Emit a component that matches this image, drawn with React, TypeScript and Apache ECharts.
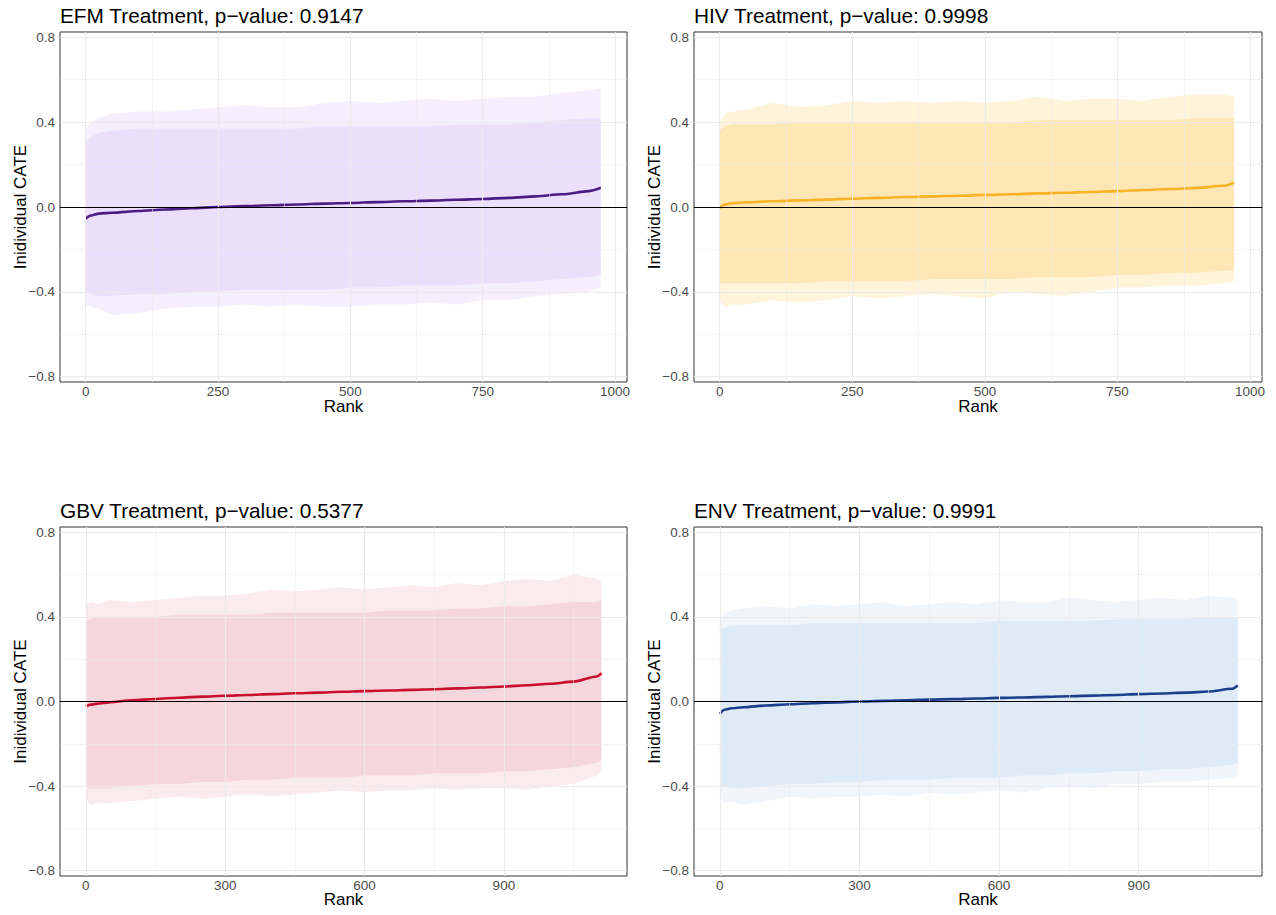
import React, { useEffect, useRef } from "react";
import * as echarts from "echarts";

// ---------- DATA ----------
const efmRanks = [0, 10, 25, 50, 100, 150, 200, 250, 300, 350, 400, 450, 500, 550, 600, 650, 700, 750, 800, 850, 900, 950, 973];
const efmCate = [-0.055, -0.04, -0.031, -0.027, -0.019, -0.012, -0.006, 0.0, 0.004, 0.008, 0.012, 0.016, 0.019, 0.023, 0.027, 0.03, 0.034, 0.038, 0.043, 0.05, 0.06, 0.075, 0.091];
const efmUpperMax = [0.37, 0.4, 0.42, 0.44, 0.45, 0.45, 0.46, 0.47, 0.48, 0.47, 0.47, 0.49, 0.5, 0.49, 0.5, 0.51, 0.5, 0.51, 0.52, 0.52, 0.54, 0.55, 0.56];
const efmUpperDense = [0.3, 0.33, 0.35, 0.36, 0.37, 0.37, 0.37, 0.37, 0.37, 0.37, 0.37, 0.38, 0.38, 0.38, 0.38, 0.38, 0.39, 0.39, 0.39, 0.4, 0.41, 0.42, 0.42];
const efmLowerDense = [-0.4, -0.41, -0.42, -0.42, -0.41, -0.41, -0.4, -0.4, -0.39, -0.39, -0.39, -0.39, -0.38, -0.38, -0.37, -0.37, -0.37, -0.36, -0.36, -0.35, -0.34, -0.33, -0.32];
const efmLowerMin = [-0.46, -0.47, -0.48, -0.51, -0.5, -0.48, -0.47, -0.47, -0.46, -0.47, -0.46, -0.47, -0.47, -0.46, -0.46, -0.45, -0.46, -0.44, -0.44, -0.42, -0.41, -0.4, -0.38];

const hivRanks = [0, 10, 25, 50, 100, 150, 200, 250, 300, 350, 400, 450, 500, 550, 600, 650, 700, 750, 800, 850, 900, 950, 970];
const hivCate = [-0.005, 0.012, 0.018, 0.022, 0.027, 0.031, 0.035, 0.039, 0.043, 0.047, 0.05, 0.053, 0.057, 0.06, 0.064, 0.067, 0.071, 0.075, 0.08, 0.085, 0.09, 0.1, 0.115];
const hivUpperMax = [0.4, 0.44, 0.45, 0.46, 0.49, 0.47, 0.48, 0.5, 0.49, 0.5, 0.49, 0.5, 0.49, 0.5, 0.52, 0.5, 0.51, 0.51, 0.5, 0.52, 0.53, 0.53, 0.52];
const hivUpperDense = [0.36, 0.38, 0.39, 0.39, 0.39, 0.4, 0.4, 0.4, 0.4, 0.4, 0.4, 0.4, 0.4, 0.4, 0.41, 0.41, 0.41, 0.41, 0.41, 0.41, 0.42, 0.42, 0.42];
const hivLowerDense = [-0.36, -0.36, -0.36, -0.36, -0.36, -0.36, -0.35, -0.35, -0.35, -0.35, -0.34, -0.34, -0.34, -0.34, -0.33, -0.33, -0.33, -0.32, -0.32, -0.31, -0.31, -0.3, -0.3];
const hivLowerMin = [-0.44, -0.47, -0.46, -0.46, -0.44, -0.45, -0.44, -0.42, -0.43, -0.42, -0.41, -0.42, -0.43, -0.4, -0.41, -0.42, -0.4, -0.38, -0.38, -0.37, -0.37, -0.36, -0.35];

const gbvRanks = [0, 10, 25, 50, 100, 150, 200, 250, 300, 350, 400, 450, 500, 550, 600, 650, 700, 750, 800, 850, 900, 950, 1000, 1050, 1100, 1110];
const gbvCate = [-0.024, -0.015, -0.01, -0.004, 0.006, 0.012, 0.018, 0.023, 0.027, 0.031, 0.035, 0.039, 0.042, 0.046, 0.049, 0.052, 0.055, 0.058, 0.062, 0.066, 0.071, 0.077, 0.084, 0.094, 0.118, 0.134];
const gbvUpperMax = [0.46, 0.47, 0.46, 0.48, 0.47, 0.48, 0.49, 0.5, 0.5, 0.51, 0.53, 0.52, 0.53, 0.54, 0.53, 0.54, 0.55, 0.54, 0.56, 0.55, 0.57, 0.58, 0.57, 0.6, 0.58, 0.57];
const gbvUpperDense = [0.38, 0.39, 0.4, 0.4, 0.4, 0.4, 0.41, 0.41, 0.41, 0.41, 0.42, 0.42, 0.42, 0.42, 0.42, 0.43, 0.43, 0.43, 0.44, 0.44, 0.45, 0.45, 0.46, 0.47, 0.47, 0.48];
const gbvLowerDense = [-0.4, -0.41, -0.41, -0.41, -0.4, -0.39, -0.39, -0.38, -0.38, -0.37, -0.37, -0.36, -0.36, -0.36, -0.35, -0.35, -0.35, -0.34, -0.34, -0.34, -0.33, -0.33, -0.32, -0.31, -0.29, -0.28];
const gbvLowerMin = [-0.46, -0.49, -0.48, -0.48, -0.47, -0.46, -0.45, -0.46, -0.45, -0.44, -0.45, -0.44, -0.43, -0.42, -0.43, -0.42, -0.42, -0.41, -0.42, -0.41, -0.41, -0.42, -0.4, -0.39, -0.35, -0.33];

const envRanks = [0, 10, 25, 50, 100, 150, 200, 250, 300, 350, 400, 450, 500, 550, 600, 650, 700, 750, 800, 850, 900, 950, 1000, 1050, 1100, 1113];
const envCate = [-0.058, -0.039, -0.032, -0.027, -0.019, -0.013, -0.008, -0.004, 0.0, 0.003, 0.006, 0.009, 0.011, 0.014, 0.017, 0.019, 0.022, 0.025, 0.028, 0.031, 0.035, 0.038, 0.042, 0.047, 0.06, 0.076];
const envUpperMax = [0.38, 0.42, 0.43, 0.44, 0.45, 0.44, 0.46, 0.45, 0.46, 0.47, 0.45, 0.46, 0.47, 0.46, 0.48, 0.47, 0.47, 0.49, 0.48, 0.47, 0.48, 0.49, 0.48, 0.5, 0.49, 0.48];
const envUpperDense = [0.34, 0.35, 0.36, 0.36, 0.36, 0.36, 0.37, 0.37, 0.37, 0.37, 0.37, 0.37, 0.37, 0.37, 0.38, 0.38, 0.38, 0.38, 0.38, 0.39, 0.39, 0.39, 0.39, 0.4, 0.4, 0.4];
const envLowerDense = [-0.4, -0.4, -0.41, -0.41, -0.4, -0.39, -0.39, -0.38, -0.38, -0.37, -0.37, -0.37, -0.36, -0.36, -0.36, -0.35, -0.35, -0.34, -0.34, -0.33, -0.33, -0.32, -0.32, -0.31, -0.3, -0.29];
const envLowerMin = [-0.45, -0.48, -0.47, -0.49, -0.47, -0.45, -0.46, -0.45, -0.45, -0.44, -0.45, -0.43, -0.44, -0.43, -0.42, -0.43, -0.41, -0.4, -0.41, -0.39, -0.39, -0.38, -0.38, -0.37, -0.36, -0.35];

const titles = [
  "EFM Treatment, p\u2212value: 0.9147",
  "HIV Treatment, p\u2212value: 0.9998",
  "GBV Treatment, p\u2212value: 0.5377",
  "ENV Treatment, p\u2212value: 0.9991",
];
const yTicks = [-0.8, -0.4, 0, 0.4, 0.8];
const yMinor = [-0.6, -0.2, 0.2, 0.6];
const xTicksTop = [0, 250, 500, 750, 1000];
const xMinorTop = [125, 375, 625, 875];
const xTicksBottom = [0, 300, 600, 900];
const xMinorBottom = [150, 450, 750, 1050];

// ---------- STYLE / LAYOUT ----------
const FONT = '"Liberation Sans", Arial, Helvetica, sans-serif';

type Panel = {
  title: string;
  ranks: number[];
  cate: number[];
  upMax: number[];
  upDense: number[];
  loDense: number[];
  loMin: number[];
  xTicks: number[];
  xMinor: number[];
  xMin: number;
  xMax: number;
  left: number;
  top: number;
  width: number;
  height: number;
  titleTop: number;
  nameGapX: number;
  lineColor: string;
  bandRGB: string;
  bandAlpha: number;
};

const panels: Panel[] = [
  {
    title: titles[0], ranks: efmRanks, cate: efmCate, upMax: efmUpperMax, upDense: efmUpperDense,
    loDense: efmLowerDense, loMin: efmLowerMin, xTicks: xTicksTop, xMinor: xMinorTop,
    xMin: -48.5, xMax: 1022.5, left: 60, top: 32, width: 567, height: 350, titleTop: 5, nameGapX: 16,
    lineColor: "#4b1c84", bandRGB: "160,100,240", bandAlpha: 0.2,
  },
  {
    title: titles[1], ranks: hivRanks, cate: hivCate, upMax: hivUpperMax, upDense: hivUpperDense,
    loDense: hivLowerDense, loMin: hivLowerMin, xTicks: xTicksTop, xMinor: xMinorTop,
    xMin: -48.5, xMax: 1022.5, left: 694, top: 32, width: 568, height: 350, titleTop: 5, nameGapX: 16,
    lineColor: "#fbb326", bandRGB: "255,180,30", bandAlpha: 0.33,
  },
  {
    title: titles[2], ranks: gbvRanks, cate: gbvCate, upMax: gbvUpperMax, upDense: gbvUpperDense,
    loDense: gbvLowerDense, loMin: gbvLowerMin, xTicks: xTicksBottom, xMinor: xMinorBottom,
    xMin: -55.5, xMax: 1165, left: 60, top: 527, width: 567, height: 349, titleTop: 500, nameGapX: 15,
    lineColor: "#c8102e", bandRGB: "200,16,46", bandAlpha: 0.165,
  },
  {
    title: titles[3], ranks: envRanks, cate: envCate, upMax: envUpperMax, upDense: envUpperDense,
    loDense: envLowerDense, loMin: envLowerMin, xTicks: xTicksBottom, xMinor: xMinorBottom,
    xMin: -55.5, xMax: 1165, left: 694, top: 527, width: 568, height: 349, titleTop: 500, nameGapX: 15,
    lineColor: "#1b3f8b", bandRGB: "30,110,200", bandAlpha: 0.14,
  },
];

const fmtY = (v: number) => {
  const s = Math.abs(v) < 1e-9 ? "0.0" : v.toFixed(1);
  return s.replace("-", "\u2212");
};

function buildOption() {
  const grid: any[] = [];
  const xAxis: any[] = [];
  const yAxis: any[] = [];
  const series: any[] = [];
  const title: any[] = [];

  const majorStyle = { color: "#ebebeb", width: 1.1, type: "solid" };
  const minorStyle = { color: "#ebebeb", width: 0.55, type: "solid" };

  panels.forEach((p, i) => {
    grid.push({
      left: p.left, top: p.top, width: p.width, height: p.height,
      show: true, borderColor: "#333333", borderWidth: 1, backgroundColor: "transparent",
      outerBoundsMode: "none", containLabel: false,
    });
    title.push({
      text: p.title, left: p.left, top: p.titleTop, padding: 0,
      textStyle: { fontFamily: FONT, fontSize: 20.8, fontWeight: "normal", color: "#000000" },
    });
    xAxis.push({
      type: "value", gridIndex: i, min: p.xMin, max: p.xMax,
      name: "Rank", nameLocation: "middle", nameGap: p.nameGapX, nameMoveOverlap: false,
      nameTextStyle: { fontFamily: FONT, fontSize: 17, lineHeight: 16, color: "#000000" },
      axisLine: { show: false },
      axisTick: { show: true, length: 3, lineStyle: { color: "#333333", width: 1 }, customValues: p.xTicks },
      axisLabel: {
        customValues: p.xTicks, color: "#4d4d4d", fontSize: 13.5, lineHeight: 12, fontFamily: FONT, margin: 3,
        formatter: (v: number) => String(Math.round(v)),
      },
      splitLine: { show: false },
    });
    yAxis.push({
      type: "value", gridIndex: i, min: -0.825, max: 0.825,
      name: "Inidividual CATE", nameLocation: "middle", nameGap: 31, nameMoveOverlap: false,
      nameTextStyle: { fontFamily: FONT, fontSize: 17, color: "#000000" },
      axisLine: { show: false },
      axisTick: { show: true, length: 3, lineStyle: { color: "#333333", width: 1 }, customValues: yTicks },
      axisLabel: {
        customValues: yTicks, color: "#4d4d4d", fontSize: 13.5, fontFamily: FONT, margin: 5,
        formatter: (v: number) => fmtY(v),
      },
      splitLine: { show: false },
    });

    const lineData = p.ranks.map((r, k) => [r, p.cate[k]]);

    // grid lines (under everything)
    series.push({
      type: "line", xAxisIndex: i, yAxisIndex: i, data: lineData, z: 0, silent: true,
      showSymbol: false, lineStyle: { opacity: 0 },
      markLine: {
        silent: true, symbol: ["none", "none"], label: { show: false }, animation: false,
        data: [
          ...yTicks.map((v) => ({ yAxis: v, lineStyle: majorStyle })),
          ...yMinor.map((v) => ({ yAxis: v, lineStyle: minorStyle })),
          ...p.xTicks.map((v) => ({ xAxis: v, lineStyle: majorStyle })),
          ...p.xMinor.map((v) => ({ xAxis: v, lineStyle: minorStyle })),
        ],
      },
    });

    // CI band
    const a = p.bandAlpha;
    const outerA = a * 0.5;
    const coreA = 1 - (1 - a) / (1 - outerA);
    series.push({
      type: "custom", xAxisIndex: i, yAxisIndex: i, z: 2, silent: true,
      data: [[p.ranks[0], 0]],
      renderItem: (_params: any, api: any) => {
        const outer: number[][] = [];
        const core: number[][] = [];
        p.ranks.forEach((r, k) => { outer.push(api.coord([r, p.upMax[k]])); core.push(api.coord([r, p.upDense[k]])); });
        for (let k = p.ranks.length - 1; k >= 0; k--) {
          outer.push(api.coord([p.ranks[k], p.loMin[k]]));
          core.push(api.coord([p.ranks[k], p.loDense[k]]));
        }
        return {
          type: "group",
          children: [
            { type: "polygon", shape: { points: outer }, style: { fill: `rgba(${p.bandRGB},${outerA})` } },
            { type: "polygon", shape: { points: core }, style: { fill: `rgba(${p.bandRGB},${coreA})` } },
          ],
        };
      },
    });

    // zero line
    series.push({
      type: "line", xAxisIndex: i, yAxisIndex: i, data: lineData, z: 3, silent: true,
      showSymbol: false, lineStyle: { opacity: 0 },
      markLine: {
        silent: true, symbol: ["none", "none"], label: { show: false }, animation: false,
        data: [{ yAxis: 0, lineStyle: { color: "#000000", width: 1, type: "solid" } }],
      },
    });

    // CATE line
    series.push({
      type: "line", xAxisIndex: i, yAxisIndex: i, data: lineData, z: 4, silent: true,
      showSymbol: false, smooth: 0.3, smoothMonotone: "x",
      lineStyle: { color: p.lineColor, width: 2.6 },
    });
  });

  return { animation: false, backgroundColor: "#ffffff", title, grid, xAxis, yAxis, series };
}

export default function App() {
  const ref = useRef<HTMLDivElement>(null);
  useEffect(() => {
    if (!ref.current) return;
    const chart = echarts.init(ref.current, undefined, { renderer: "svg" });
    chart.setOption(buildOption() as any);
    return () => chart.dispose();
  }, []);
  return (
    <div
      ref={ref}
      style={{ position: "fixed", left: 0, top: 0, width: "1276px", height: "915px", background: "#fff" }}
    />
  );
}
